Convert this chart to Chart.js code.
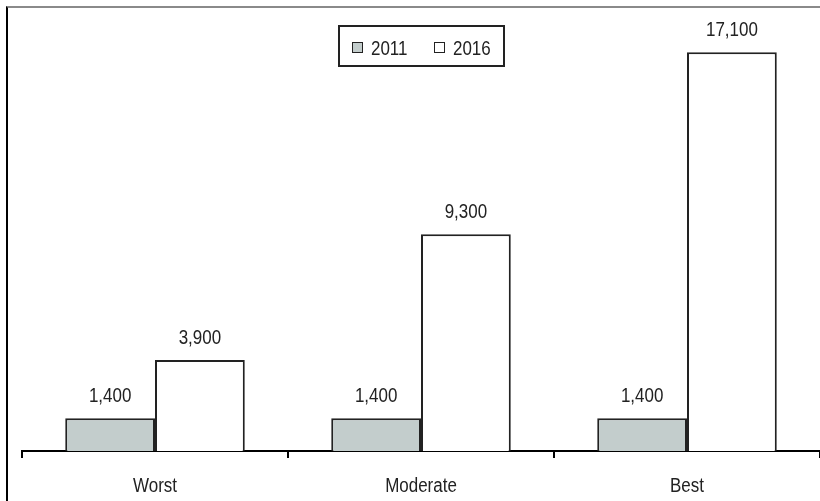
<!DOCTYPE html>
<html>
<head>
<meta charset="utf-8">
<script src="https://cdn.jsdelivr.net/npm/chart.js@4.4.1/dist/chart.umd.min.js"></script>
<style>
  html, body { margin: 0; padding: 0; background: #fff; }
  #wrap { position: relative; width: 820px; height: 501px; }
  #frame { position: absolute; left: 6px; top: 6px; width: 814px; height: 495px;
           border-left: 2px solid #000; border-top: 2px solid #8a8a8a; box-sizing: border-box; pointer-events: none; }
  #legendBox { position: absolute; left: 338px; top: 25px; width: 167px; height: 42px; box-sizing: border-box;
               border: 2px solid #222; }
  .sw { position: absolute; width: 11px; height: 11px; box-sizing: border-box; border: 1.5px solid #222; }
  .lt { position: absolute; font-family: 'Liberation Sans', Arial, sans-serif; font-size: 19.5px; line-height: 20px;
        color: #222; transform: scaleX(0.87); transform-origin: 0 0; white-space: nowrap; }
</style>
</head>
<body>
<div id="wrap">
  <canvas id="c" width="820" height="501"></canvas>
  <div id="frame"></div>
  <div id="legendBox"></div>
</div>
<script>
const categories = ['Worst', 'Moderate', 'Best'];
const seriesNames = ['2011', '2016'];
const values2011 = [1400, 1400, 1400];
const values2016 = [3900, 9300, 17100];
const seriesColors = ['#c3cdcc', '#ffffff'];

const FONT = "'Liberation Sans', Arial, sans-serif";
const SX = 0.87;

function narrowText(ctx, text, x, y) {
  ctx.save();
  ctx.translate(x, y);
  ctx.scale(SX, 1);
  ctx.fillText(text, 0, 0);
  ctx.restore();
}

const textPlugin = {
  id: 'textPlugin',
  afterDraw(chart) {
    const ctx = chart.ctx;
    ctx.save();
    ctx.font = '19.5px ' + FONT;
    ctx.fillStyle = '#222';
    ctx.textAlign = 'center';
    ctx.textBaseline = 'alphabetic';
    chart.data.datasets.forEach((ds, i) => {
      const meta = chart.getDatasetMeta(i);
      meta.data.forEach((bar, j) => {
        narrowText(ctx, ds.data[j].toLocaleString('en-US'), bar.x, bar.y - 16);
      });
    });
    const xs = chart.scales.x;
    chart.data.labels.forEach((lab, i) => {
      narrowText(ctx, lab, xs.getPixelForValue(i), 492);
    });
    ctx.restore();
  }
};

const chart = new Chart(document.getElementById('c'), {
  type: 'bar',
  data: {
    labels: categories,
    datasets: [
      { label: seriesNames[0], data: values2011, backgroundColor: seriesColors[0], borderColor: '#222', borderWidth: 2 },
      { label: seriesNames[1], data: values2016, backgroundColor: seriesColors[1], borderColor: '#222', borderWidth: 2 }
    ]
  },
  options: {
    responsive: false,
    animation: false,
    devicePixelRatio: 1,
    datasets: { bar: { categoryPercentage: 0.675, barPercentage: 1.0 } },
    layout: { padding: { left: 22, right: 0, top: 8, bottom: 0 } },
    plugins: { legend: { display: false }, tooltip: { enabled: false } },
    scales: {
      x: {
        offset: true,
        grid: { display: true, offset: true, drawOnChartArea: false, drawTicks: true, tickLength: 7, color: '#000', lineWidth: 2 },
        border: { display: true, color: '#000', width: 2 },
        ticks: { color: 'rgba(0,0,0,0)', font: { family: FONT, size: 19.5 }, padding: 14, maxRotation: 0 },
        afterFit(scale) { scale.height = 50; }
      },
      y: { display: false, min: 0, max: 19000 }
    }
  },
  plugins: [textPlugin]
});

// HTML legend built from the chart's datasets
const wrap = document.getElementById('wrap');
const legendPos = [{ sw: 352, tx: 371 }, { sw: 434, tx: 453 }];
chart.data.datasets.forEach((ds, i) => {
  const sw = document.createElement('div');
  sw.className = 'sw';
  sw.style.left = legendPos[i].sw + 'px';
  sw.style.top = '42px';
  sw.style.background = ds.backgroundColor;
  const t = document.createElement('div');
  t.className = 'lt';
  t.style.left = legendPos[i].tx + 'px';
  t.style.top = '38px';
  t.textContent = ds.label;
  wrap.appendChild(sw); wrap.appendChild(t);
});
</script>
</body>
</html>
